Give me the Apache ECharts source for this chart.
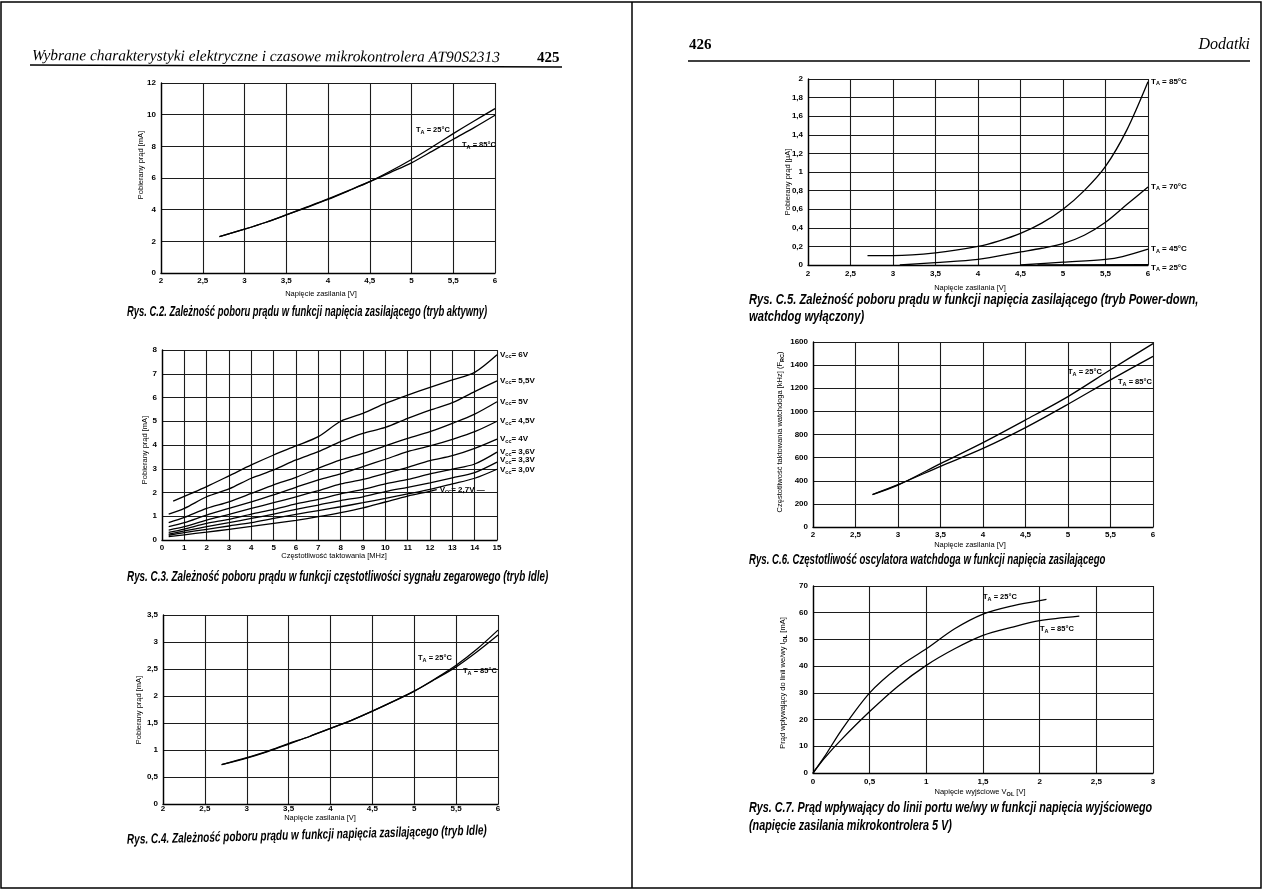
<!DOCTYPE html>
<html><head><meta charset="utf-8">
<script src="https://cdn.jsdelivr.net/npm/echarts@6/dist/echarts.min.js"></script>
<style>html,body{margin:0;padding:0;background:#fff}#c{width:1263px;height:893px}</style>
</head><body><div id="c"></div>
<script>
// ---------- DATA ----------
// Rys. C.2 (tryb aktywny)
const c2_x   = [2.7, 3, 3.25, 3.5, 3.75, 4, 4.25, 4.5, 4.75, 5, 5.25, 5.5, 5.75, 6];
const c2_t25 = [2.3, 2.77, 3.19, 3.67, 4.15, 4.65, 5.2, 5.77, 6.44, 7.17, 7.97, 8.8, 9.6, 10.38];
const c2_t85 = [2.3, 2.77, 3.19, 3.67, 4.17, 4.68, 5.22, 5.77, 6.36, 6.96, 7.7, 8.45, 9.18, 9.96];
// Rys. C.3 (tryb Idle, funkcja częstotliwości)
const c3_x    = [0.3, 1, 2, 3, 4, 5, 6, 7, 8, 9, 10, 11, 12, 13, 14, 15];
const c3_x6   = [0.5, 2, 3, 4, 5, 6, 7, 8, 9, 10, 11, 12, 13, 14, 15];
const c3_x27  = [0.3, 1, 2, 3, 4, 5, 6, 7, 8, 9, 10, 11, 12, 12.3];
const c3_v60  = [1.64, 2.25, 2.7, 3.16, 3.58, 3.96, 4.35, 5.0, 5.33, 5.75, 6.1, 6.43, 6.74, 7.06, 7.8];
const c3_v55  = [1.09, 1.33, 1.82, 2.15, 2.6, 2.95, 3.37, 3.72, 4.14, 4.49, 4.74, 5.12, 5.47, 5.78, 6.25, 6.7];
const c3_v50  = [0.73, 0.95, 1.33, 1.61, 1.96, 2.32, 2.64, 3.02, 3.37, 3.65, 3.96, 4.28, 4.56, 4.91, 5.3, 5.82];
const c3_v45  = [0.56, 0.73, 1.05, 1.33, 1.61, 1.9, 2.22, 2.53, 2.78, 3.09, 3.4, 3.72, 3.96, 4.24, 4.56, 5.0];
const c3_v40  = [0.42, 0.56, 0.84, 1.08, 1.33, 1.57, 1.82, 2.08, 2.36, 2.55, 2.81, 3.06, 3.34, 3.55, 3.86, 4.25];
const c3_v36  = [0.32, 0.46, 0.7, 0.87, 1.09, 1.29, 1.52, 1.71, 1.94, 2.13, 2.36, 2.55, 2.78, 2.98, 3.2, 3.7];
const c3_v33  = [0.25, 0.38, 0.56, 0.73, 0.91, 1.09, 1.29, 1.47, 1.66, 1.82, 2.04, 2.22, 2.41, 2.62, 2.84, 3.28];
const c3_v30  = [0.2, 0.31, 0.45, 0.59, 0.73, 0.91, 1.08, 1.24, 1.4, 1.57, 1.75, 1.94, 2.13, 2.36, 2.6, 2.98];
const c3_v27  = [0.14, 0.22, 0.33, 0.45, 0.57, 0.7, 0.83, 0.98, 1.15, 1.35, 1.6, 1.85, 2.05, 2.12];
const c3_labels = ['6V', '5,5V', '5V', '4,5V', '4V', '3,6V', '3,3V', '3,0V', '2,7V'];
// Rys. C.4 (tryb Idle)
const c4_x   = [2.7, 3, 3.25, 3.5, 3.75, 4, 4.25, 4.5, 4.75, 5, 5.25, 5.5, 5.75, 6];
const c4_t25 = [0.73, 0.86, 0.98, 1.12, 1.25, 1.4, 1.55, 1.72, 1.9, 2.09, 2.32, 2.57, 2.87, 3.22];
const c4_t85 = [0.73, 0.85, 0.97, 1.11, 1.25, 1.4, 1.55, 1.72, 1.9, 2.09, 2.31, 2.54, 2.82, 3.13];
// Rys. C.5 (Power-down)
const c5_x85 = [2.7, 3, 3.5, 4, 4.25, 4.5, 4.75, 5, 5.25, 5.5, 5.75, 6];
const c5_t85 = [0.1, 0.1, 0.13, 0.2, 0.26, 0.34, 0.45, 0.6, 0.8, 1.06, 1.45, 1.97];
const c5_x70 = [3.08, 3.5, 4, 4.5, 4.75, 5, 5.25, 5.5, 5.75, 6];
const c5_t70 = [0, 0.025, 0.06, 0.14, 0.18, 0.23, 0.32, 0.46, 0.65, 0.84];
const c5_x45 = [4.5, 5, 5.5, 5.7, 6];
const c5_t45 = [0, 0.03, 0.06, 0.09, 0.17];
const c5_x25 = [4.7, 6];
const c5_t25 = [0, 0.004];
// Rys. C.6 (watchdog)
const c6_x   = [2.7, 3, 3.5, 4, 4.5, 5, 5.5, 6];
const c6_t25 = [281, 362, 548, 730, 926, 1128, 1360, 1586];
const c6_t85 = [281, 366, 525, 680, 860, 1062, 1273, 1476];
// Rys. C.7 (I_OL vs V_OL)
const c7_x25 = [0, 0.1, 0.25, 0.5, 0.75, 1, 1.25, 1.5, 1.75, 2, 2.06];
const c7_t25 = [0, 6, 16, 30, 39.5, 46.5, 54, 59.5, 62.5, 64.5, 65];
const c7_x85 = [0, 0.1, 0.25, 0.5, 0.75, 1, 1.25, 1.5, 1.75, 2, 2.35];
const c7_t85 = [0, 5.5, 12.5, 23, 32.5, 40.3, 46.5, 51.5, 54.5, 57, 58.7];

// ---------- CHART ----------
const SANS = "'Liberation Sans', Arial, Helvetica, sans-serif";
const NARROW = "'Liberation Sans', Arial, sans-serif";
const SERIF = "'Liberation Serif', 'DejaVu Serif', serif";
const zip = (xs, ys) => xs.map((x, i) => [x, ys[i]]);
const comma = v => String(+(+v).toFixed(2)).replace('.', ',');
const subRich = { s: { fontSize: 5.5, fontWeight: 'bold', fontFamily: SANS, color: '#000', padding: [4, 0, 0, 0] } };

const grids = [
  { left: 161, top: 83, width: 334, height: 190 },
  { left: 162, top: 350, width: 335, height: 190 },
  { left: 163, top: 615, width: 335, height: 189 },
  { left: 808, top: 79, width: 340, height: 186 },
  { left: 813, top: 342, width: 340, height: 185 },
  { left: 813, top: 586, width: 340, height: 187 }
];
const xr = [[2, 6, 0.5], [0, 15, 1], [2, 6, 0.5], [2, 6, 0.5], [2, 6, 0.5], [0, 3, 0.5]];
const yr = [[0, 12, 2], [0, 8, 1], [0, 3.5, 0.5], [0, 2, 0.2], [0, 1600, 200], [0, 70, 10]];
const xMargins = [4, 4, 1, 5, 4, 5];

const gridLine = { show: true, lineStyle: { color: '#1c1c1c', width: 1.1 } };
const axLine = { show: true, onZero: false, lineStyle: { color: '#000', width: 1.4 } };
const lbl = (m, fmt) => ({ show: true, fontSize: 8, fontWeight: 'bold', color: '#000', fontFamily: SANS, margin: m, formatter: fmt, showMinLabel: true, showMaxLabel: true });

const xAxis = xr.map((r, i) => ({
  gridIndex: i, type: 'value', min: r[0], max: r[1], interval: r[2],
  axisLine: axLine, axisTick: { show: false }, splitLine: gridLine,
  axisLabel: lbl(xMargins[i], comma)
}));
const yAxis = yr.map((r, i) => ({
  gridIndex: i, type: 'value', min: r[0], max: r[1], interval: r[2],
  axisLine: axLine, axisTick: { show: false }, splitLine: gridLine,
  axisLabel: lbl(5, comma)
}));

function line(idx, name, xs, ys, endText) {
  const s = {
    type: 'line', name, xAxisIndex: idx, yAxisIndex: idx, data: zip(xs, ys),
    smooth: 0.3, symbol: 'none', silent: true,
    lineStyle: { color: '#000', width: 1.3 }, itemStyle: { color: '#000' }
  };
  if (endText) {
    s.endLabel = { show: true, formatter: endText, distance: 3, fontSize: 8, fontWeight: 'bold',
      color: '#000', fontFamily: SANS, rich: subRich };
  }
  return s;
}

const series = [
  line(0, '25', c2_x, c2_t25), line(0, '85', c2_x, c2_t85),
  line(1, '6', c3_x6, c3_v60, 'V{s|cc}= ' + c3_labels[0]),
  line(1, '5.5', c3_x, c3_v55, 'V{s|cc}= ' + c3_labels[1]),
  line(1, '5', c3_x, c3_v50, 'V{s|cc}= ' + c3_labels[2]),
  line(1, '4.5', c3_x, c3_v45, 'V{s|cc}= ' + c3_labels[3]),
  line(1, '4', c3_x, c3_v40, 'V{s|cc}= ' + c3_labels[4]),
  line(1, '3.6', c3_x, c3_v36, 'V{s|cc}= ' + c3_labels[5]),
  line(1, '3.3', c3_x, c3_v33, 'V{s|cc}= ' + c3_labels[6]),
  line(1, '3.0', c3_x, c3_v30, 'V{s|cc}= ' + c3_labels[7]),
  line(1, '2.7', c3_x27, c3_v27, 'V{s|cc}= ' + c3_labels[8] + ' ―'),
  line(2, '25', c4_x, c4_t25), line(2, '85', c4_x, c4_t85),
  line(3, '85', c5_x85, c5_t85, 'T{s|A} = 85°C'),
  line(3, '70', c5_x70, c5_t70, 'T{s|A} = 70°C'),
  line(3, '45', c5_x45, c5_t45, 'T{s|A} = 45°C'),
  line(3, '25', c5_x25, c5_t25, 'T{s|A} = 25°C'),
  line(4, '25', c6_x, c6_t25), line(4, '85', c6_x, c6_t85),
  line(5, '25', c7_x25, c7_t25), line(5, '85', c7_x85, c7_t85)
];
// nudge overlapping end labels of C.3 / C.5
series[8].endLabel.offset = [0, -2];
series[9].endLabel.offset = [0, 1];
series[16].endLabel.offset = [0, 3];

// ---------- TEXT / DECORATION ----------
function txt(x, y, text, font, opts) {
  return Object.assign({ type: 'text', x, y, z: 100, silent: true,
    style: Object.assign({ text, font, fill: '#000', align: 'left', verticalAlign: 'middle', rich: subRich }, opts && opts.style || {}) },
    opts && opts.el || {});
}
const capFont = "italic bold 14px " + NARROW;
const cap = (x, y, t, sx, rot) => txt(x, y, t, capFont, { el: { scaleX: sx, rotation: rot || 0 } });
const tickTitle = "7.5px " + SANS;
const lblFont = "bold 7.5px " + SANS;
const vt = (x, y, t) => txt(x, y, t, tickTitle, { style: { align: 'center' }, el: { rotation: Math.PI / 2 } });
const ht = (x, y, t) => txt(x, y, t, tickTitle, { style: { align: 'center' } });

const graphic = [
  { type: 'rect', z: 90, silent: true, shape: { x: 1, y: 2, width: 1260, height: 886 }, style: { fill: null, stroke: '#000', lineWidth: 1.5 } },
  { type: 'line', z: 90, silent: true, shape: { x1: 632, y1: 2, x2: 632, y2: 888 }, style: { stroke: '#000', lineWidth: 1.5 } },
  // headers
  txt(32, 56, 'Wybrane charakterystyki elektryczne i czasowe mikrokontrolera AT90S2313', 'italic 15.4px ' + SERIF, { el: { rotation: -0.004 } }),
  txt(537, 58, '425', 'bold 15px ' + SERIF),
  { type: 'line', z: 90, silent: true, shape: { x1: 30, y1: 65, x2: 562, y2: 67 }, style: { stroke: '#000', lineWidth: 1.6 } },
  txt(689, 45, '426', 'bold 15px ' + SERIF),
  txt(1250, 45, 'Dodatki', 'italic 16px ' + SERIF, { style: { align: 'right' } }),
  { type: 'line', z: 90, silent: true, shape: { x1: 688, y1: 61, x2: 1250, y2: 61 }, style: { stroke: '#000', lineWidth: 1.6 } },
  // axis titles
  vt(141, 165, 'Pobierany prąd [mA]'), ht(321, 294, 'Napięcie zasilania [V]'),
  vt(145, 450, 'Pobierany prąd [mA]'), ht(334, 556, 'Częstotliwość taktowania [MHz]'),
  vt(139, 710, 'Pobierany prąd [mA]'), ht(320, 818, 'Napięcie zasilania [V]'),
  vt(788, 182, 'Pobierany prąd [µA]'), ht(970, 288, 'Napięcie zasilania [V]'),
  vt(780, 432, 'Częstotliwość taktowania watchdoga [kHz] (F{s|RC})'), ht(970, 545, 'Napięcie zasilania [V]'),
  vt(783, 683, 'Prąd wpływający do linii we/wy I{s|OL} [mA]'), ht(980, 792, 'Napięcie wyjściowe V{s|OL} [V]'),
  // in-plot labels
  txt(416, 130, 'T{s|A} = 25°C', lblFont), txt(462, 145, 'T{s|A} = 85°C', lblFont),
  txt(418, 658, 'T{s|A} = 25°C', lblFont), txt(463, 671, 'T{s|A} = 85°C', lblFont),
  txt(1068, 372, 'T{s|A} = 25°C', lblFont), txt(1118, 382, 'T{s|A} = 85°C', lblFont),
  txt(983, 597, 'T{s|A} = 25°C', lblFont), txt(1040, 629, 'T{s|A} = 85°C', lblFont),
  // captions
  cap(127, 312, 'Rys. C.2. Zależność poboru prądu w funkcji napięcia zasilającego (tryb aktywny)', 0.674),
  cap(127, 577, 'Rys. C.3. Zależność poboru prądu w funkcji częstotliwości sygnału zegarowego (tryb Idle)', 0.705),
  cap(127, 840, 'Rys. C.4. Zależność poboru prądu w funkcji napięcia zasilającego (tryb Idle)', 0.715, 0.026),
  cap(749, 300, 'Rys. C.5. Zależność poboru prądu w funkcji napięcia zasilającego (tryb Power-down,', 0.8),
  cap(749, 317, 'watchdog wyłączony)', 0.8),
  cap(749, 560, 'Rys. C.6. Częstotliwość oscylatora watchdoga w funkcji napięcia zasilającego', 0.689),
  cap(749, 808, 'Rys. C.7. Prąd wpływający do linii portu we/wy w funkcji napięcia wyjściowego', 0.771),
  cap(749, 826, '(napięcie zasilania mikrokontrolera 5 V)', 0.771)
];

const chart = echarts.init(document.getElementById('c'), null, { renderer: 'canvas' });
chart.setOption({
  animation: false,
  backgroundColor: '#fff',
  grid: grids.map(g => Object.assign({ containLabel: false, outerBoundsMode: 'none' }, g)),
  xAxis, yAxis, series, graphic
});
</script></body></html>
